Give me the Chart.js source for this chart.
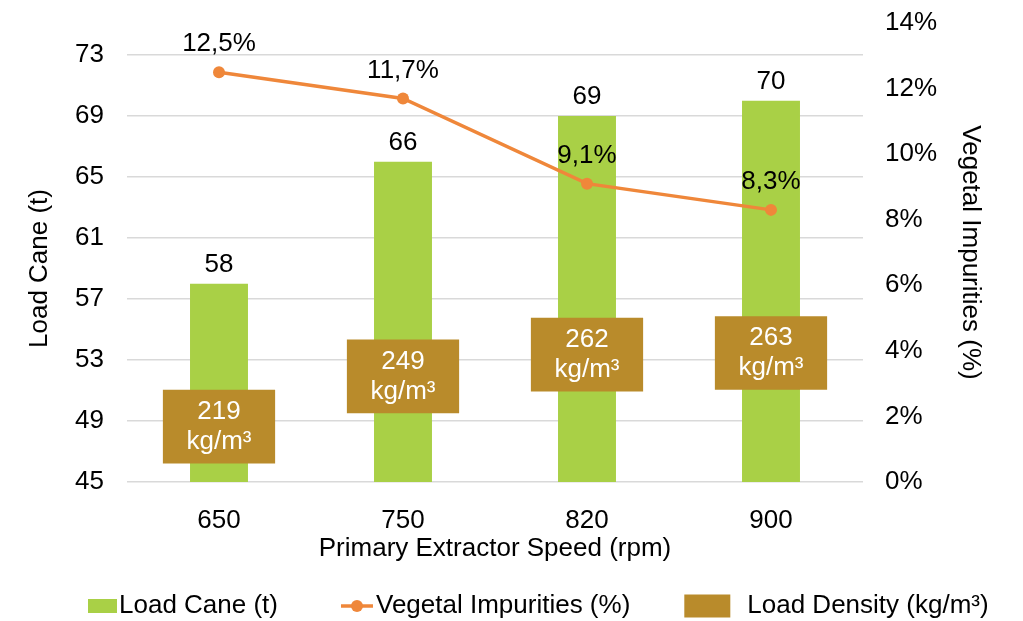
<!DOCTYPE html>
<html>
<head>
<meta charset="utf-8">
<title>Load Cane vs Primary Extractor Speed</title>
<script src="https://cdn.jsdelivr.net/npm/chart.js@4.4.0/dist/chart.umd.min.js"></script>
<style>
  html, body { margin: 0; padding: 0; background: #fff; }
  #wrap { width: 1023px; height: 621px; }
</style>
</head>
<body>
<div id="wrap"><canvas id="grafik" width="1023" height="621"></canvas></div>
<script>
// === Data ===
const speeds = ["650", "750", "820", "900"];
const loadCane = [58, 66, 69, 70];          // t
const impurities = [12.5, 11.7, 9.1, 8.3];  // %
const loadDensity = [219, 249, 262, 263];   // kg/m³
const loadCaneTicks = [45, 49, 53, 57, 61, 65, 69, 73];

// === Warna & font ===
const HIJAU = "#a9d046";
const ORANYE = "#ef873a";
const COKLAT = "#b98b2b";
const FONT = "'Liberation Sans', Arial, sans-serif";

Chart.defaults.font.family = FONT;
Chart.defaults.font.size = 26;
Chart.defaults.color = "#000";

// kotak density digambar sebagai floating bar di sekitar nilainya
const densityHalf = 22;

// === Label nilai di atas bar, titik dan kotak density ===
const labelPlugin = {
  id: "nilaiLabel",
  afterDatasetsDraw(chart) {
    const ctx = chart.ctx;
    ctx.save();
    ctx.font = "26px " + FONT;
    ctx.textAlign = "center";
    ctx.textBaseline = "middle";

    chart.getDatasetMeta(0).data.forEach((bar, i) => {
      ctx.fillStyle = "#000";
      ctx.fillText(String(loadCane[i]), bar.x, bar.y - 19);
    });

    chart.getDatasetMeta(1).data.forEach((box, i) => {
      const cy = (box.y + box.base) / 2;
      ctx.fillStyle = "#fff";
      ctx.fillText(String(loadDensity[i]), box.x, cy - 15);
      ctx.fillText("kg/m³", box.x, cy + 15);
    });

    chart.getDatasetMeta(2).data.forEach((pt, i) => {
      ctx.fillStyle = "#000";
      ctx.fillText(impurities[i].toFixed(1).replace(".", ",") + "%", pt.x, pt.y - 28);
    });

    // judul sumbu kiri, di tengah rentang tick 45..73
    const sy = chart.scales.y;
    const midY = (sy.getPixelForValue(loadCaneTicks[0]) + sy.getPixelForValue(loadCaneTicks[loadCaneTicks.length - 1])) / 2;
    ctx.translate(40, midY);
    ctx.rotate(-Math.PI / 2);
    ctx.fillStyle = "#000";
    ctx.fillText("Load Cane (t)", 0, 0);
    ctx.restore();
  }
};

// === Legend bawah ===
const legendPlugin = {
  id: "legendBawah",
  afterDraw(chart) {
    const ctx = chart.ctx;
    const y = 606;
    const items = [
      { text: "Load Cane (t)", kind: "bar", color: HIJAU, w: 29, h: 14, gap: 2, after: 63 },
      { text: "Vegetal Impurities (%)", kind: "line", color: ORANYE, w: 32, h: 0, gap: 3, after: 54 },
      { text: "Load Density (kg/m³)", kind: "bar", color: COKLAT, w: 46, h: 23, gap: 17, after: 0 }
    ];
    ctx.save();
    ctx.font = "26px " + FONT;
    ctx.textBaseline = "middle";
    ctx.textAlign = "left";
    let x = 88;
    items.forEach(it => {
      if (it.kind === "bar") {
        ctx.fillStyle = it.color;
        ctx.fillRect(x, y - it.h / 2, it.w, it.h);
      } else {
        ctx.strokeStyle = it.color;
        ctx.lineWidth = 3.5;
        ctx.beginPath();
        ctx.moveTo(x, y);
        ctx.lineTo(x + it.w, y);
        ctx.stroke();
        ctx.fillStyle = it.color;
        ctx.beginPath();
        ctx.arc(x + it.w / 2, y, 6, 0, Math.PI * 2);
        ctx.fill();
      }
      x += it.w + it.gap;
      ctx.fillStyle = "#000";
      ctx.fillText(it.text, x, y);
      x += ctx.measureText(it.text).width + it.after;
    });
    ctx.restore();
  }
};

// === Inisialisasi Chart ===
const ctx = document.getElementById("grafik").getContext("2d");
const grafik = new Chart(ctx, {
  data: {
    labels: speeds,
    datasets: [
      {
        type: "bar",
        label: "Load Cane (t)",
        data: loadCane,
        yAxisID: "y",
        backgroundColor: HIJAU,
        borderWidth: 0,
        grouped: false,
        categoryPercentage: 1,
        barPercentage: 0.315,
        order: 3
      },
      {
        type: "bar",
        label: "Load Density (kg/m³)",
        data: loadDensity.map(v => [v - densityHalf, v + densityHalf]),
        yAxisID: "yd",
        backgroundColor: COKLAT,
        borderWidth: 0,
        grouped: false,
        categoryPercentage: 1,
        barPercentage: 0.61,
        order: 2
      },
      {
        type: "line",
        label: "Vegetal Impurities (%)",
        data: impurities,
        yAxisID: "y2",
        borderColor: ORANYE,
        backgroundColor: ORANYE,
        borderWidth: 3.5,
        pointRadius: 6,
        pointBorderWidth: 0,
        pointBackgroundColor: ORANYE,
        tension: 0,
        order: 1
      }
    ]
  },
  options: {
    responsive: false,
    animation: false,
    devicePixelRatio: 1,
    layout: { padding: { top: 23, bottom: 49, left: 0, right: 0 } },
    plugins: {
      legend: { display: false },
      tooltip: { enabled: false },
      title: { display: false }
    },
    scales: {
      x: {
        offset: true,
        grid: { display: false },
        border: { display: false },
        ticks: { padding: 15 },
        title: { display: true, text: "Primary Extractor Speed (rpm)", padding: { top: 0, bottom: 8 } },
        afterFit: s => { s.height = 90; s.paddingLeft = 0; s.paddingRight = 0; }
      },
      y: {
        position: "left",
        min: 45,
        max: 75.1,
        afterBuildTicks: s => { s.ticks = loadCaneTicks.map(v => ({ value: v })); },
        grid: { color: "#d9d9d9", lineWidth: 1.5, drawTicks: false },
        border: { display: false },
        ticks: { padding: 23 },
        afterFit: s => { s.width = 127; s.paddingTop = 0; s.paddingBottom = 0; }
      },
      y2: {
        position: "right",
        min: 0,
        max: 14,
        grid: { display: false, drawTicks: false },
        border: { display: false },
        ticks: { stepSize: 2, padding: 22, callback: v => v + "%" },
        title: { display: true, text: "Vegetal Impurities (%)", padding: { top: 37, bottom: 0 } },
        afterFit: s => { s.width = 160; s.paddingTop = 0; s.paddingBottom = 0; }
      },
      yd: {
        display: false,
        min: 186,
        max: 460
      }
    }
  },
  plugins: [labelPlugin, legendPlugin]
});
</script>
</body>
</html>
